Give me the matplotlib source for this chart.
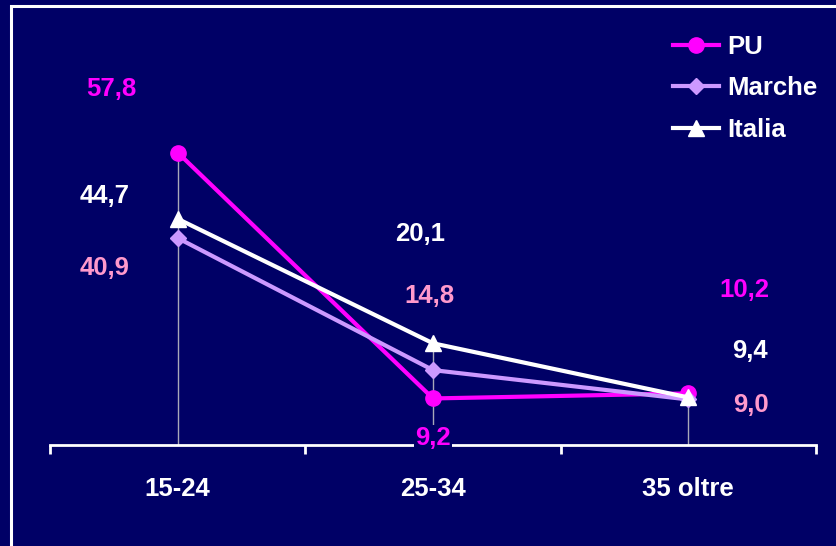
import matplotlib.pyplot as plt
import matplotlib.patches as patches

# Data
categories = ["15-24", "25-34", "35 oltre"]
pu = [57.8, 9.2, 10.2]
marche = [40.9, 14.8, 9.0]
italia = [44.7, 20.1, 9.4]
pu_labels = ["57,8", "9,2", "10,2"]
marche_labels = ["40,9", "14,8", "9,0"]
italia_labels = ["44,7", "20,1", "9,4"]

bg = "#000066"
c_pu = "#FF00FF"
c_marche = "#CC99FF"
c_label_marche = "#FF99CC"
c_italia = "white"

plt.rcParams["font.family"] = ["Liberation Sans", "DejaVu Sans"]
plt.rcParams["font.weight"] = "bold"
fs = 18.5

fig = plt.figure(figsize=(8.37, 5.46), dpi=100, facecolor=bg)
ax = fig.add_axes([50 / 837, 1 - 445 / 546, 766 / 837, 354.2 / 546])
ax.set_facecolor(bg)

x = list(range(len(categories)))

# frame around the chart
fig.patches.append(patches.Rectangle((11 / 837, -0.5), 2, 1.5 - 6 / 546,
                                     transform=fig.transFigure, fill=False,
                                     edgecolor="white", linewidth=2.2))

# drop lines from the highest point to the axis
tops = [max(a, b, c) for a, b, c in zip(pu, marche, italia)]
ax.vlines(x, 0, tops, color="#A8A8B8", linewidth=1, zorder=1)

ax.plot(x, pu, color=c_pu, marker="o", markersize=11, linewidth=3, label="PU", zorder=3)
ax.plot(x, marche, color=c_marche, marker="D", markersize=8, linewidth=3, label="Marche", zorder=4)
ax.plot(x, italia, color=c_italia, marker="^", markersize=11, linewidth=3, label="Italia", zorder=5)

# value labels (offsets in data units)
pu_pos = [(-0.261, 70.3), (1.0, 1.3), (2.218, 30.6)]
marche_pos = [(-0.288, 35.0), (0.988, 29.4), (2.246, 7.9)]
italia_pos = [(-0.288, 49.2), (0.949, 41.7), (2.242, 18.6)]
for (px, py), t in zip(pu_pos, pu_labels):
    ax.text(px, py, t, color=c_pu, fontsize=fs, fontweight="bold", ha="center", va="center",
            clip_on=False, zorder=6,
            bbox=dict(facecolor=bg, edgecolor="none", pad=1) if t == "9,2" else None)
for (px, py), t in zip(marche_pos, marche_labels):
    ax.text(px, py, t, color=c_label_marche, fontsize=fs, fontweight="bold",
            ha="center", va="center", clip_on=False, zorder=6)
for (px, py), t in zip(italia_pos, italia_labels):
    ax.text(px, py, t, color=c_italia, fontsize=fs, fontweight="bold",
            ha="center", va="center", clip_on=False, zorder=6)

ax.set_xlim(-0.5, 2.5)
ax.set_ylim(0, 70)
for s in ["top", "right", "left"]:
    ax.spines[s].set_visible(False)
ax.spines["bottom"].set_color("white")
ax.spines["bottom"].set_linewidth(2)
ax.set_yticks([])
ax.set_xticks([-0.5, 0.5, 1.5, 2.5])
ax.set_xticklabels([])
ax.tick_params(axis="x", which="major", direction="out", length=6.5, width=2, color="white")
ax.set_xticks(x, minor=True)
ax.set_xticklabels(categories, minor=True)
ax.tick_params(axis="x", which="minor", length=0, pad=23, labelcolor="white", labelsize=fs)

leg = ax.legend(loc="upper left", bbox_to_anchor=(673 / 837, 1 - 35 / 546),
                bbox_transform=fig.transFigure, frameon=False, fontsize=fs,
                handlelength=1.8, handletextpad=0.3, labelspacing=0.68, borderpad=0,
                borderaxespad=0)
for t in leg.get_texts():
    t.set_color("white")
    t.set_fontweight("bold")

fig.savefig("out.png", dpi=100, facecolor=bg)
